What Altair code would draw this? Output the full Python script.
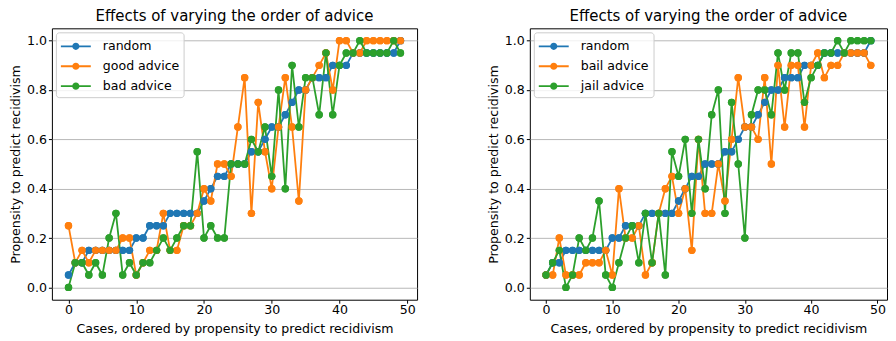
import altair as alt
import pandas as pd

cases = list(range(50))

random_vals = [0.05, 0.10, 0.10, 0.15, 0.15, 0.15, 0.15, 0.15, 0.15, 0.15,
               0.20, 0.20, 0.25, 0.25, 0.25, 0.30, 0.30, 0.30, 0.30, 0.30,
               0.35, 0.40, 0.45, 0.45, 0.50, 0.50, 0.50, 0.55, 0.55, 0.60,
               0.65, 0.65, 0.70, 0.75, 0.80, 0.80, 0.85, 0.85, 0.85, 0.90,
               0.90, 0.90, 0.95, 0.95, 0.95, 0.95, 0.95, 0.95, 0.95, 1.00]

good_vals = [0.25, 0.10, 0.15, 0.10, 0.15, 0.15, 0.15, 0.15, 0.20, 0.20,
             0.05, 0.10, 0.15, 0.15, 0.30, 0.15, 0.15, 0.25, 0.25, 0.30,
             0.40, 0.35, 0.50, 0.50, 0.45, 0.65, 0.85, 0.30, 0.75, 0.55,
             0.40, 0.65, 0.85, 0.65, 0.35, 0.80, 0.85, 0.90, 0.95, 0.80,
             1.00, 1.00, 0.95, 0.95, 1.00, 1.00, 1.00, 1.00, 1.00, 1.00]

bad_vals = [0.00, 0.10, 0.10, 0.05, 0.10, 0.05, 0.20, 0.30, 0.05, 0.10,
            0.05, 0.10, 0.10, 0.15, 0.20, 0.15, 0.20, 0.25, 0.25, 0.55,
            0.20, 0.25, 0.20, 0.20, 0.50, 0.50, 0.50, 0.60, 0.55, 0.65,
            0.45, 0.80, 0.40, 0.90, 0.65, 0.85, 0.85, 0.70, 0.95, 0.70,
            0.90, 0.95, 0.95, 1.00, 0.95, 0.95, 0.95, 0.95, 1.00, 0.95]

bail_vals = [0.05, 0.05, 0.20, 0.05, 0.05, 0.05, 0.10, 0.10, 0.10, 0.15,
             0.05, 0.40, 0.20, 0.20, 0.25, 0.05, 0.10, 0.30, 0.40, 0.45,
             0.30, 0.40, 0.15, 0.60, 0.30, 0.30, 0.50, 0.35, 0.60, 0.85,
             0.65, 0.65, 0.60, 0.85, 0.50, 0.90, 0.65, 0.90, 0.90, 0.65,
             0.90, 0.95, 0.85, 0.90, 0.90, 0.95, 0.95, 0.95, 0.95, 0.90]

jail_vals = [0.05, 0.10, 0.15, 0.00, 0.05, 0.20, 0.15, 0.20, 0.35, 0.05,
             0.00, 0.10, 0.20, 0.25, 0.10, 0.30, 0.10, 0.30, 0.05, 0.55,
             0.45, 0.60, 0.30, 0.60, 0.40, 0.70, 0.80, 0.30, 0.75, 0.50,
             0.20, 0.70, 0.80, 0.80, 0.70, 0.95, 0.80, 0.95, 0.95, 0.75,
             0.85, 0.90, 0.95, 0.95, 1.00, 0.95, 1.00, 1.00, 1.00, 1.00]

left_names = ["random", "good advice", "bad advice"]
right_names = ["random", "bail advice", "jail advice"]
x_ticks = [0, 10, 20, 30, 40, 50]
y_ticks = [0.0, 0.2, 0.4, 0.6, 0.8, 1.0]
title_text = "Effects of varying the order of advice"
x_title = "Cases, ordered by propensity to predict recidivism"
y_title = "Propensity to predict recidivism"

COLORS = ["#1f77b4", "#ff7f0e", "#2ca02c"]
FONT = "DejaVu Sans"
# legend glyph: a short line with a dot in the middle (all filled)
SYMBOL = ("M-1.5,-0.09L1.5,-0.09L1.5,0.09L-1.5,0.09Z "
          "M-0.36,0A0.36,0.36 0 1,1 0.36,0A0.36,0.36 0 1,1 -0.36,0Z")

PH = 272


def panel(names, series, pw):
    rows = []
    for name, vals in zip(names, series):
        for c, v in zip(cases, vals):
            rows.append({"case": c, "value": v, "series": name})
    df = pd.DataFrame(rows)

    x = alt.X("case:Q",
              scale=alt.Scale(domain=[-2.45, 51.45], nice=False, zero=False),
              axis=alt.Axis(values=x_ticks, title=x_title, grid=False,
                            labelFlush=False, labelPadding=0.5,
                            titlePadding=6.5))
    y = alt.Y("value:Q",
              scale=alt.Scale(domain=[-0.05, 1.05], nice=False, zero=False),
              axis=alt.Axis(values=y_ticks, format=".1f", title=y_title,
                            grid=True, labelPadding=2, titlePadding=4))
    legend = alt.Legend(orient="none", legendX=4, legendY=4, title=None,
                        symbolType=SYMBOL, symbolSize=400, symbolStrokeWidth=0,
                        symbolOffset=6, symbolOpacity=1, padding=4,
                        rowPadding=3, labelOffset=17, labelFontSize=12.6,
                        labelFont=FONT, labelColor="black",
                        strokeColor="#cccccc",
                        fillColor="rgba(255,255,255,0.8)", cornerRadius=3)
    color = alt.Color("series:N", scale=alt.Scale(domain=names, range=COLORS),
                      legend=legend)
    base = alt.Chart(df)
    line = base.mark_line(strokeWidth=1.8).encode(x=x, y=y, color=color)
    pts = base.mark_point(filled=True, size=55, opacity=1).encode(
        x=x, y=y, color=color)
    return alt.layer(pts, line, pts).properties(
        width=pw, height=PH,
        title=alt.TitleParams(title_text, anchor="middle", fontSize=15,
                              font=FONT, fontWeight="normal", color="black",
                              offset=4))


left = panel(left_names, [random_vals, good_vals, bad_vals], 366)
right = panel(right_names, [random_vals, bail_vals, jail_vals], 358)

chart = (
    alt.hconcat(left, right, spacing=113, bounds="flush")
    .resolve_scale(color="independent")
    .resolve_legend(color="independent")
    .properties(padding=0)
    .configure_view(stroke="black", strokeWidth=1)
    .configure_axis(domain=False, tickColor="black", tickSize=3.5,
                    labelFont=FONT, labelFontSize=12.6,
                    labelColor="black", titleFont=FONT, titleFontSize=12.6,
                    titleFontWeight="normal", titleColor="black",
                    gridColor="#b0b0b0", gridWidth=0.9)
)

chart.save("out.html", embed_options={"renderer": "svg", "actions": False})
